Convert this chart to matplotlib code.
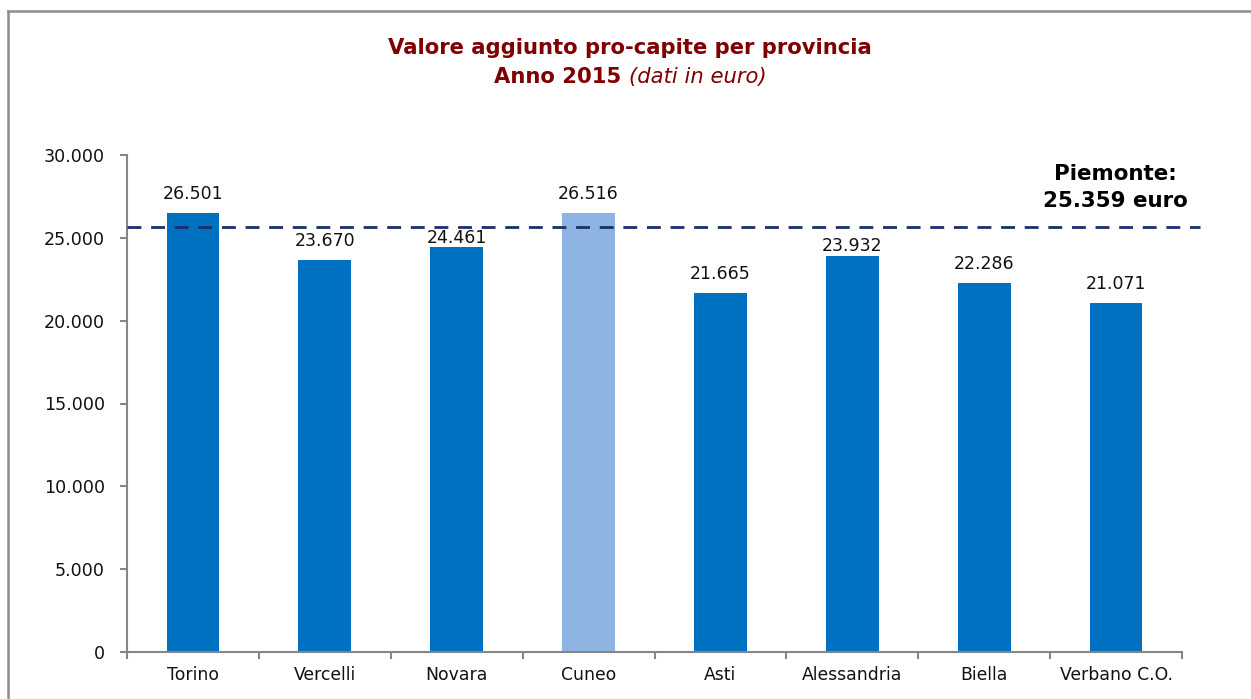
import matplotlib.pyplot as plt
from matplotlib.lines import Line2D
import matplotlib.transforms as mtransforms
import numpy as np

provinces = ['Torino', 'Vercelli', 'Novara', 'Cuneo', 'Asti', 'Alessandria', 'Biella', 'Verbano C.O.']
values = [26501, 23670, 24461, 26516, 21665, 23932, 22286, 21071]
highlight = 'Cuneo'
piemonte_label = 'Piemonte:\n25.359 euro'
piemonte_line = 25650  # position of the dashed line as drawn
yticks = [0, 5000, 10000, 15000, 20000, 25000, 30000]

dark_blue = '#0070C0'
light_blue = '#8EB4E3'
title_red = '#7F0000'
axis_gray = '#868686'

# labels that were nudged down to keep clear of the dashed line
label_gap = {'Novara': -10, 'Alessandria': 30}

def fmt(v):
    return f'{v:,}'.replace(',', '.')

plt.rcParams['font.family'] = 'DejaVu Sans'

fig = plt.figure(figsize=(12.51, 6.99), dpi=100)
ax = fig.add_axes([127 / 1251, 1 - 652 / 699, (1182 - 127) / 1251, (652 - 155) / 699])

# frame around the whole chart (only top and left edges are visible)
fx, fy = 7.5 / 1251, 1 - 11 / 699
fig.lines.append(Line2D([fx, 1.01], [fy, fy], transform=fig.transFigure, color='#8C8C8C', linewidth=1.8))
fig.lines.append(Line2D([fx, fx], [fy, -0.01], transform=fig.transFigure, color='#8C8C8C', linewidth=1.8))

x = np.arange(len(provinces))
colors = [light_blue if p == highlight else dark_blue for p in provinces]
ax.bar(x, values, width=0.4, color=colors, zorder=2)

for xi, p, v in zip(x, provinces, values):
    ax.text(xi, v + label_gap.get(p, 600), fmt(v), ha='center', va='bottom', fontsize=12.5, color='#111111')

trans = mtransforms.blended_transform_factory(ax.transAxes, ax.transData)
ax.plot([0, (1200 - 127) / (1182 - 127)], [piemonte_line, piemonte_line], transform=trans,
        color='#1B2F6B', linestyle=(0, (5, 3.5)), linewidth=2, clip_on=False, zorder=3)
ax.text((1115 - 127) / (1182 - 127), 28050, piemonte_label, transform=trans, ha='center',
        va='center', fontsize=15.4, fontweight='bold', color='black', linespacing=1.4)

ax.set_xlim(-0.5, len(provinces) - 0.5)
ax.set_ylim(0, 30000)
ax.set_yticks(yticks)
ax.set_yticklabels([fmt(t) for t in yticks], fontsize=12.6, color='#111111')
ax.set_xticks(np.arange(-0.5, len(provinces), 1.0))
ax.set_xticklabels([])
ax.set_xticks(x, minor=True)
ax.set_xticklabels(provinces, minor=True, fontsize=12.4, color='#111111')
ax.tick_params(axis='x', which='minor', length=0, pad=10)
ax.tick_params(axis='x', which='major', length=5, color=axis_gray, width=1.5)
ax.tick_params(axis='y', length=5, color=axis_gray, width=1.5, pad=11)

for s in ['top', 'right']:
    ax.spines[s].set_visible(False)
for s in ['left', 'bottom']:
    ax.spines[s].set_color(axis_gray)
    ax.spines[s].set_linewidth(1.5)

fig.text(630 / 1251, 1 - 48 / 699, 'Valore aggiunto pro-capite per provincia', ha='center', va='center',
         fontsize=15.2, fontweight='bold', color=title_red)
fig.text(629 / 1251, 1 - 77 / 699, 'Anno 2015 ', ha='right', va='center',
         fontsize=15.2, fontweight='bold', color=title_red)
fig.text(629 / 1251, 1 - 77 / 699, '(dati in euro)', ha='left', va='center',
         fontsize=15.2, style='italic', color=title_red)

fig.savefig('out.png', dpi=100)
